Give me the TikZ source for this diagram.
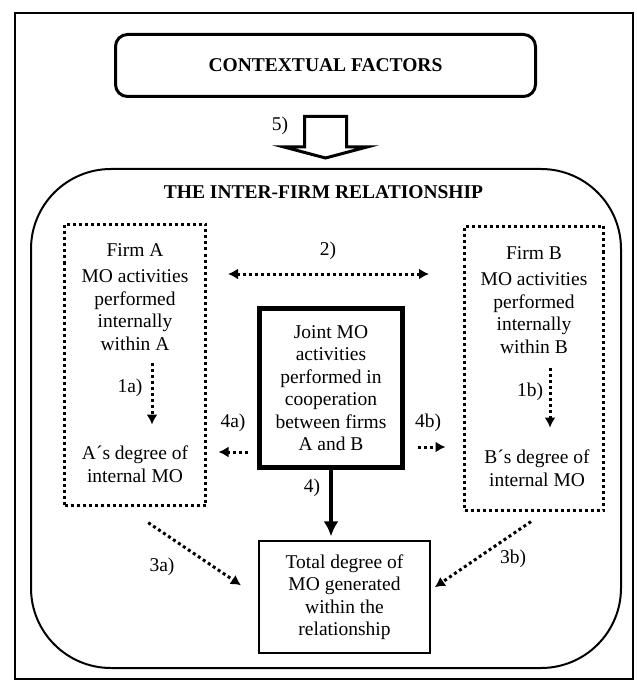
\documentclass[tikz,border=0pt]{standalone}
\usepackage{fontspec}
\setmainfont{Liberation Serif}
\usetikzlibrary{positioning}
\usetikzlibrary{calc}
\usetikzlibrary{arrows.meta}

\begin{document}
\begin{tikzpicture}[x=1pt,y=-1pt,
every node/.style={font=\fontsize{19.5}{22.5}\selectfont,align=center,inner sep=0pt},
dotbox/.style={draw,line width=3pt,dash pattern=on 3pt off 3pt},
dotarrow/.style={line width=3pt,dash pattern=on 3pt off 3pt,-{Latex[length=10pt,width=11pt]}},
bigarrow/.style={line width=4pt,-{Latex[length=15pt,width=15pt]}}]
\useasboundingbox (0,0) rectangle (636,684);
\node (frame) at (324,346) [draw,line width=2pt,minimum width=618pt,minimum height=665pt] {};
\node (ctx) at (325.5,65.5) [draw,line width=3pt,rounded corners=12pt,minimum width=420pt,minimum height=62pt] {\bfseries CONTEXTUAL FACTORS};
\draw[line width=3pt,line join=miter,fill=white] ($(ctx.south)+(-21,18.5)$) -- ($(ctx.south)+(21,18.5)$) -- ($(ctx.south)+(21,49)$) -- ($(ctx.south)+(41.5,49)$) -- ($(ctx.south)+(0,60)$) -- ($(ctx.south)+(-41.5,49)$) -- ($(ctx.south)+(-21,49)$) -- cycle;
\node (n5) at (280,126) {5)};
\node (rel) at (326,418.5) [draw,line width=2pt,rounded corners=80pt,minimum width=590pt,minimum height=499pt] {};
\node (title) at (323.5,192) {\bfseries THE INTER-FIRM RELATIONSHIP};
\node (boxA) at (135,365) [dotbox,minimum width=141pt,minimum height=281pt] {};
\node (boxB) at (534,368.5) [dotbox,minimum width=139pt,minimum height=284pt] {};
\node (topA) at (135,297) {Firm A\\[4pt]MO activities\\performed\\internally\\within A};
\node (topB) at (534,300) {Firm B\\[4pt]MO activities\\performed\\internally\\within B};
\node (degA) at (135,464) {A´s degree of\\internal MO};
\node (degB) at (537,468) {B´s degree of\\internal MO};
\node (joint) at (331,388) [draw,line width=5pt,minimum width=143pt,minimum height=159pt] {Joint MO\\activities\\performed in\\cooperation\\between firms\\A and B};
\node (total) at (344.5,597) [draw,line width=1.3pt,minimum width=171pt,minimum height=112pt] {Total degree of\\MO generated\\within the\\relationship};
\draw[dotarrow,{Latex[length=10pt,width=11pt]}-{Latex[length=10pt,width=11pt]},shorten <=21pt,shorten >=34pt] (boxA.east |- 0,274) -- (boxB.west |- 0,274);
\node (n2) at (328,251) {2)};
\draw[dotarrow,shorten <=12.5pt,shorten >=21pt] ([xshift=17pt]topA.south) -- ([xshift=17pt]degA.north);
\node (n1a) at (130,388) {1a)};
\draw[dotarrow,shorten <=14.5pt,shorten >=22pt] ([xshift=16pt]topB.south) -- ([xshift=13pt]degB.north);
\node (n1b) at (530,392) {1b)};
\draw[dotarrow,shorten <=9pt,shorten >=11.5pt] (joint.west |- 0,452) -- (boxA.east |- 0,452);
\node (n4a) at (233,423) {4a)};
\draw[dotarrow,shorten <=12.5pt,shorten >=17.5pt] (joint.east |- 0,447) -- (boxB.west |- 0,447);
\node (n4b) at (428,423) {4b)};
\draw[bigarrow,shorten >=4pt] (joint.south) -- (joint.south |- total.north);
\node (n4) at (312,488) {4)};
\draw[dotarrow,shorten <=28pt,shorten >=21pt] ([xshift=-10pt]boxA.south) -- (total.west);
\node (n3a) at (162,567) {3a)};
\draw[dotarrow,shorten <=17pt,shorten >=5pt] ([xshift=11pt]boxB.south) -- ([yshift=7pt]total.east);
\node (n3b) at (513,559) {3b)};
\end{tikzpicture}
\end{document}
